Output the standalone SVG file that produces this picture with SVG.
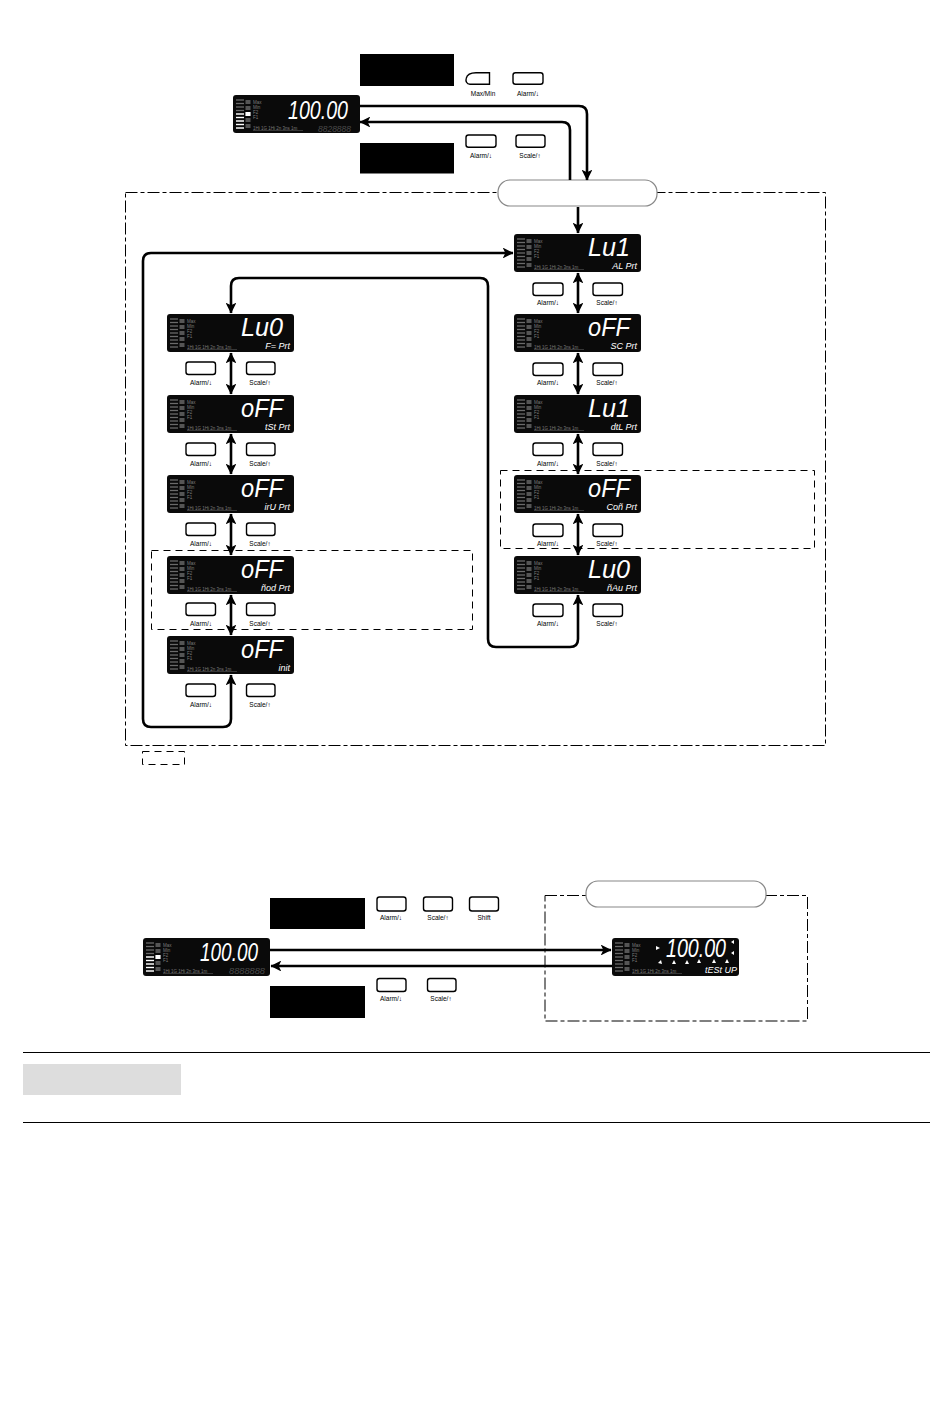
<svg xmlns="http://www.w3.org/2000/svg" xmlns:xlink="http://www.w3.org/1999/xlink" width="950" height="1408" viewBox="0 0 950 1408">
<style>
.big{font-family:"Liberation Sans","DejaVu Sans",sans-serif;font-style:italic;font-size:26px;fill:#fff}
.sub{font-family:"Liberation Sans","DejaVu Sans",sans-serif;font-style:italic;font-size:9px;fill:#fff;text-anchor:end}
.seg{font-family:"Liberation Sans",sans-serif;font-style:italic;font-size:9px;fill:#4a4a4a}
.tiny{font-family:"Liberation Sans",sans-serif;font-size:4.5px;fill:#7a7a7a}
.btn{fill:#fff;stroke:#000;stroke-width:1.4}
.bl{font-family:"Liberation Sans","DejaVu Sans",sans-serif;font-size:6.5px;fill:#000;text-anchor:middle}
.blk{fill:#000}
.con{fill:none;stroke:#000;stroke-width:2.6}
.dd{fill:none;stroke:#000;stroke-width:1;stroke-dasharray:12 3 4 3}
.dash{fill:none;stroke:#000;stroke-width:1;stroke-dasharray:7 5}
.pill{fill:#fff;stroke:#888;stroke-width:1.2}
</style>
<defs>
<marker id="ah" viewBox="0 0 10 10" refX="9.5" refY="5" markerWidth="4.2" markerHeight="4.2" orient="auto-start-reverse" markerUnits="strokeWidth">
<path d="M0,0 L10,5 L0,10 L2.5,5 Z" fill="#000"/>
</marker>
<g id="lcd">
<rect width="127" height="38" rx="3" fill="#0a0a0a"/>
<g stroke="#6a6a6a" stroke-width="1.3">
<line x1="3" y1="5" x2="11" y2="5"/><line x1="3" y1="8.5" x2="11" y2="8.5"/><line x1="3" y1="12" x2="11" y2="12"/><line x1="3" y1="15.5" x2="11" y2="15.5"/><line x1="3" y1="19" x2="11" y2="19"/><line x1="3" y1="22.5" x2="11" y2="22.5"/><line x1="3" y1="26" x2="11" y2="26"/><line x1="3" y1="29.5" x2="11" y2="29.5"/><line x1="3" y1="33" x2="11" y2="33"/>
</g>
<g fill="#555"><rect x="12.5" y="5" width="5" height="4"/><rect x="12.5" y="11" width="5" height="4"/><rect x="12.5" y="17" width="5" height="4"/><rect x="12.5" y="23" width="5" height="4"/><rect x="12.5" y="29" width="5" height="4"/></g>
<text class="tiny" x="20" y="9">Max</text><text class="tiny" x="20" y="14">Min</text><text class="tiny" x="20" y="19">F2</text><text class="tiny" x="20" y="24">F1</text>
<text class="tiny" x="20" y="34.5" font-size="4">1Hi  1G  1Hi  2n  3ns  1m</text>
<line x1="20" y1="35.5" x2="70" y2="35.5" stroke="#555" stroke-width="0.6"/>
</g>
<g id="lcdmain">
<use xlink:href="#lcd"/>
<g stroke="#fff" stroke-width="1.3"><line x1="3" y1="19" x2="11" y2="19"/><line x1="3" y1="22.5" x2="11" y2="22.5"/><line x1="3" y1="26" x2="11" y2="26"/><line x1="3" y1="29.5" x2="11" y2="29.5"/><line x1="3" y1="33" x2="11" y2="33"/></g>
<rect x="12.5" y="17" width="5" height="4" fill="#fff"/>
</g>
</defs>

<!-- top section -->
<g id="top-display">
<use xlink:href="#lcdmain" transform="translate(233,95)"/>
<text class="big" x="288" y="119" textLength="60" lengthAdjust="spacingAndGlyphs">100.00</text>
<text class="seg" x="318" y="132" textLength="33" lengthAdjust="spacingAndGlyphs">8828888</text>
</g>
<g id="top-key-in">
<rect class="blk" x="360" y="54" width="94" height="32"/>
<path class="btn" d="M476,72.8 H489.5 V84.2 H470 C466.5,84.2 465.5,81 466.2,78.4 C467,75 470,72.8 476,72.8 Z"/>
<text class="bl" x="483" y="96">Max/Min</text>
<rect class="btn" x="513" y="72.8" width="30" height="11.4" rx="2.5"/>
<text class="bl" x="528" y="96">Alarm/↓</text>
</g>
<g id="top-key-out">
<rect class="blk" x="360" y="143" width="94" height="30.5"/>
<rect class="btn" x="466" y="135" width="30" height="12.3" rx="2.5"/>
<text class="bl" x="481" y="158">Alarm/↓</text>
<rect class="btn" x="516" y="135" width="29" height="12.3" rx="2.5"/>
<text class="bl" x="530" y="158">Scale/↑</text>
</g>

<!-- protection mode frame -->
<g id="protect-frame">
<rect class="dd" x="125.5" y="192.5" width="700" height="553"/>
<rect class="pill" x="498" y="180" width="159" height="26" rx="12"/>
</g>
<g id="legend">
<rect class="dash" x="142.5" y="751.5" width="42" height="13" stroke-dasharray="4 3"/>
</g>
<rect class="dash" x="500.5" y="470.5" width="314" height="78"/>
<rect class="dash" x="151.5" y="550.5" width="321" height="79"/>

<!-- right column -->
<g id="r1">
<use xlink:href="#lcd" transform="translate(514,234)"/>
<text class="big" x="588" y="256" textLength="42" lengthAdjust="spacingAndGlyphs">Lu1</text>
<text class="sub" x="637" y="269">AL Prt</text>
<rect class="btn" x="533" y="283" width="30" height="12.5" rx="2.5"/><text class="bl" x="548" y="305">Alarm/↓</text>
<rect class="btn" x="593" y="283" width="29.5" height="12.5" rx="2.5"/><text class="bl" x="607" y="305">Scale/↑</text>
</g>
<g id="r2">
<use xlink:href="#lcd" transform="translate(514,314)"/>
<text class="big" x="588" y="336" textLength="42" lengthAdjust="spacingAndGlyphs">oFF</text>
<text class="sub" x="637" y="349">SC Prt</text>
<rect class="btn" x="533" y="363" width="30" height="12.5" rx="2.5"/><text class="bl" x="548" y="385">Alarm/↓</text>
<rect class="btn" x="593" y="363" width="29.5" height="12.5" rx="2.5"/><text class="bl" x="607" y="385">Scale/↑</text>
</g>
<g id="r3">
<use xlink:href="#lcd" transform="translate(514,395)"/>
<text class="big" x="588" y="417" textLength="42" lengthAdjust="spacingAndGlyphs">Lu1</text>
<text class="sub" x="637" y="430">dtL Prt</text>
<rect class="btn" x="533" y="443" width="30" height="12.5" rx="2.5"/><text class="bl" x="548" y="466">Alarm/↓</text>
<rect class="btn" x="593" y="443" width="29.5" height="12.5" rx="2.5"/><text class="bl" x="607" y="466">Scale/↑</text>
</g>
<g id="r4">
<use xlink:href="#lcd" transform="translate(514,475)"/>
<text class="big" x="588" y="497" textLength="42" lengthAdjust="spacingAndGlyphs">oFF</text>
<text class="sub" x="637" y="510">Coñ Prt</text>
<rect class="btn" x="533" y="524" width="30" height="12.5" rx="2.5"/><text class="bl" x="548" y="546">Alarm/↓</text>
<rect class="btn" x="593" y="524" width="29.5" height="12.5" rx="2.5"/><text class="bl" x="607" y="546">Scale/↑</text>
</g>
<g id="r5">
<use xlink:href="#lcd" transform="translate(514,556)"/>
<text class="big" x="588" y="578" textLength="42" lengthAdjust="spacingAndGlyphs">Lu0</text>
<text class="sub" x="637" y="591">ñAu Prt</text>
<rect class="btn" x="533" y="604" width="30" height="12.5" rx="2.5"/><text class="bl" x="548" y="626">Alarm/↓</text>
<rect class="btn" x="593" y="604" width="29.5" height="12.5" rx="2.5"/><text class="bl" x="607" y="626">Scale/↑</text>
</g>

<!-- left column -->
<g id="l1">
<use xlink:href="#lcd" transform="translate(167,314)"/>
<text class="big" x="241" y="336" textLength="42" lengthAdjust="spacingAndGlyphs">Lu0</text>
<text class="sub" x="290" y="349">F= Prt</text>
<rect class="btn" x="186" y="362" width="29.5" height="12.5" rx="2.5"/><text class="bl" x="201" y="385">Alarm/↓</text>
<rect class="btn" x="246.5" y="362" width="28.5" height="12.5" rx="2.5"/><text class="bl" x="260" y="385">Scale/↑</text>
</g>
<g id="l2">
<use xlink:href="#lcd" transform="translate(167,395)"/>
<text class="big" x="241" y="417" textLength="42" lengthAdjust="spacingAndGlyphs">oFF</text>
<text class="sub" x="290" y="430">tSt Prt</text>
<rect class="btn" x="186" y="443" width="29.5" height="12.5" rx="2.5"/><text class="bl" x="201" y="466">Alarm/↓</text>
<rect class="btn" x="246.5" y="443" width="28.5" height="12.5" rx="2.5"/><text class="bl" x="260" y="466">Scale/↑</text>
</g>
<g id="l3">
<use xlink:href="#lcd" transform="translate(167,475)"/>
<text class="big" x="241" y="497" textLength="42" lengthAdjust="spacingAndGlyphs">oFF</text>
<text class="sub" x="290" y="510">irU Prt</text>
<rect class="btn" x="186" y="523" width="29.5" height="12.5" rx="2.5"/><text class="bl" x="201" y="546">Alarm/↓</text>
<rect class="btn" x="246.5" y="523" width="28.5" height="12.5" rx="2.5"/><text class="bl" x="260" y="546">Scale/↑</text>
</g>
<g id="l4">
<use xlink:href="#lcd" transform="translate(167,556)"/>
<text class="big" x="241" y="578" textLength="42" lengthAdjust="spacingAndGlyphs">oFF</text>
<text class="sub" x="290" y="591">ñod Prt</text>
<rect class="btn" x="186" y="603" width="29.5" height="12.5" rx="2.5"/><text class="bl" x="201" y="626">Alarm/↓</text>
<rect class="btn" x="246.5" y="603" width="28.5" height="12.5" rx="2.5"/><text class="bl" x="260" y="626">Scale/↑</text>
</g>
<g id="l5">
<use xlink:href="#lcd" transform="translate(167,636)"/>
<text class="big" x="241" y="658" textLength="42" lengthAdjust="spacingAndGlyphs">oFF</text>
<text class="sub" x="290" y="671">init</text>
<rect class="btn" x="186" y="684" width="29.5" height="12.5" rx="2.5"/><text class="bl" x="201" y="707">Alarm/↓</text>
<rect class="btn" x="246.5" y="684" width="28.5" height="12.5" rx="2.5"/><text class="bl" x="260" y="707">Scale/↑</text>
</g>

<!-- bottom section -->
<g id="b-display">
<use xlink:href="#lcdmain" transform="translate(143,938)"/>
<text class="big" x="200" y="961" textLength="58" lengthAdjust="spacingAndGlyphs">100.00</text>
<text class="seg" x="229" y="974" textLength="36" lengthAdjust="spacingAndGlyphs">8888888</text>
</g>
<g id="b-key-in">
<rect class="blk" x="270" y="898" width="95" height="31"/>
<rect class="btn" x="377" y="897" width="29" height="14" rx="2.5"/><text class="bl" x="391" y="920">Alarm/↓</text>
<rect class="btn" x="423.5" y="897" width="29" height="14" rx="2.5"/><text class="bl" x="438" y="920">Scale/↑</text>
<rect class="btn" x="469.5" y="897" width="29" height="14" rx="2.5"/><text class="bl" x="484" y="920">Shift</text>
</g>
<g id="b-key-out">
<rect class="blk" x="270" y="986" width="95" height="32"/>
<rect class="btn" x="377" y="978.5" width="29" height="13" rx="2.5"/><text class="bl" x="391" y="1001">Alarm/↓</text>
<rect class="btn" x="427.5" y="978.5" width="28.5" height="13" rx="2.5"/><text class="bl" x="441" y="1001">Scale/↑</text>
</g>
<g id="test-frame">
<rect class="dd" x="545" y="895.5" width="262.5" height="125.5"/>
<rect class="pill" x="586" y="881" width="180" height="26" rx="12"/>
</g>
<g id="test-display">
<use xlink:href="#lcd" transform="translate(612,938)"/>
<text class="big" x="666" y="957" font-size="22" textLength="60" lengthAdjust="spacingAndGlyphs">100.00</text>
<text class="sub" x="737" y="973" font-size="10">tESt UP</text>
<g fill="#fff">
<path d="M666,935 l4,0 l-2,3 z"/><path d="M680,935 l4,0 l-2,3 z"/><path d="M693,935 l4,0 l-2,3 z"/><path d="M707,935 l4,0 l-2,3 z"/><path d="M721,935 l4,0 l-2,3 z"/>
<path d="M656,946 l4,2 l-4,2 z"/><path d="M731,942 l3,-2 l0,4 z"/><path d="M731,953 l3,-2 l0,4 z"/>
<path d="M658,963 l3,-3 l1,4 z"/><path d="M672,964 l2,-4 l2,4 z"/><path d="M685,964 l2,-4 l2,4 z"/><path d="M697,963 l2,-4 l2,4 z"/><path d="M712,963 l2,-4 l2,4 z"/><path d="M725,963 l2,-4 l2,4 z"/>
</g>
</g>

<!-- bottom bar -->
<g id="footer">
<line x1="23" y1="1052.5" x2="930" y2="1052.5" stroke="#000" stroke-width="1"/>
<rect x="23" y="1064" width="158" height="31" fill="#dddddd"/>
<line x1="23" y1="1122.5" x2="930" y2="1122.5" stroke="#000" stroke-width="1"/>
</g>

<!-- connectors -->
<g id="connectors">
<path class="con" d="M360,106 H579 Q587,106 587,114 V180" marker-end="url(#ah)"/>
<path class="con" d="M570,180 V130 Q570,122 562,122 H360" marker-end="url(#ah)"/>
<path class="con" d="M578,207 V233" marker-end="url(#ah)"/>
<path class="con" d="M231,675 V719 Q231,727 223,727 H151 Q143,727 143,719 V261 Q143,253 151,253 H513" marker-start="url(#ah)" marker-end="url(#ah)"/>
<path class="con" d="M231,313 V286 Q231,278 239,278 H480 Q488,278 488,286 V639 Q488,647 496,647 H570 Q578,647 578,639 V595" marker-start="url(#ah)" marker-end="url(#ah)"/>
<path class="con" d="M578,273 V313" marker-start="url(#ah)" marker-end="url(#ah)"/>
<path class="con" d="M578,353 V394" marker-start="url(#ah)" marker-end="url(#ah)"/>
<path class="con" d="M578,434 V474" marker-start="url(#ah)" marker-end="url(#ah)"/>
<path class="con" d="M578,514 V555" marker-start="url(#ah)" marker-end="url(#ah)"/>
<path class="con" d="M231,353 V394" marker-start="url(#ah)" marker-end="url(#ah)"/>
<path class="con" d="M231,434 V474" marker-start="url(#ah)" marker-end="url(#ah)"/>
<path class="con" d="M231,514 V555" marker-start="url(#ah)" marker-end="url(#ah)"/>
<path class="con" d="M231,595 V635" marker-start="url(#ah)" marker-end="url(#ah)"/>
<path class="con" d="M270,950 H611" marker-end="url(#ah)"/>
<path class="con" d="M612,966 H271" marker-end="url(#ah)"/>
</g>
</svg>
